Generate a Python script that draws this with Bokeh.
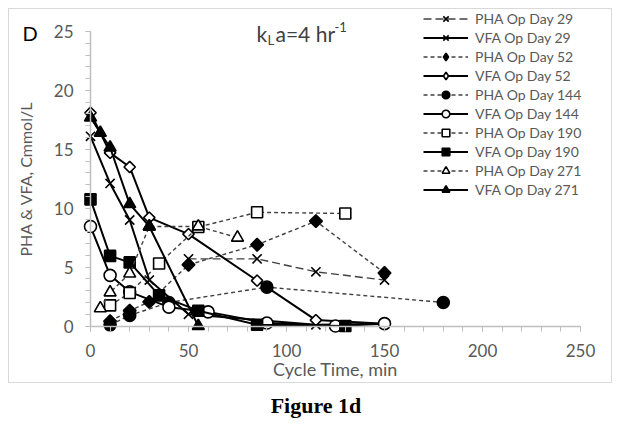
from bokeh.plotting import figure
from bokeh.models import (Range1d, SingleIntervalTicker, Legend, LegendItem, Label, Div, LinearAxis)
from bokeh.layouts import column
from bokeh.embed import file_html
from bokeh.resources import INLINE
import math

# ---- data (Cycle Time, min / Cmmol/L) ----
pha29_t = [50, 85, 115, 150]
pha29_v = [5.7, 5.7, 4.6, 3.9]
vfa29_t = [0, 10, 20, 30, 50, 115, 150]
vfa29_v = [16.1, 12.1, 9.0, 3.9, 1.0, 0.1, 0.2]
pha52_t = [10, 20, 30, 50, 85, 115, 150]
pha52_v = [0.4, 1.3, 2.05, 5.2, 6.9, 8.9, 4.5]
vfa52_t = [0, 10, 20, 30, 50, 85, 115, 150]
vfa52_v = [18.1, 14.7, 13.5, 9.2, 7.8, 3.85, 0.5, 0.2]
pha144_t = [10, 20, 40, 90, 180]
pha144_v = [0.1, 0.9, 2.0, 3.3, 2.0]
vfa144_t = [0, 10, 20, 40, 60, 90, 125, 150]
vfa144_v = [8.45, 4.3, 2.9, 1.6, 1.2, 0.25, 0.0, 0.2]
pha190_t = [10, 20, 35, 55, 85, 130]
pha190_v = [1.75, 2.8, 5.3, 8.4, 9.65, 9.55]
vfa190_t = [0, 10, 20, 35, 55, 85, 130]
vfa190_v = [10.75, 5.95, 5.4, 2.6, 1.3, 0.1, 0.0]
pha271_t = [5, 10, 20, 30, 55, 75]
pha271_v = [1.5, 2.85, 4.45, 8.45, 8.45, 7.5]
vfa271_t = [0, 5, 10, 20, 30, 55]
vfa271_v = [17.7, 16.4, 15.15, 10.35, 8.45, 0.0]

series_names = ["PHA Op Day 29", "VFA Op Day 29", "PHA Op Day 52", "VFA Op Day 52",
                "PHA Op Day 144", "VFA Op Day 144", "PHA Op Day 190", "VFA Op Day 190",
                "PHA Op Day 271", "VFA Op Day 271"]
x_axis_span = (0, 250)
y_axis_span = (0, 25)
x_tick_interval = 50
y_tick_interval = 5

FONT = "Lato"
GRAY = "#595959"
AXIS_GRAY = "#bfbfbf"

# ---- layout geometry (page pixels) ----
W, H = 604, 375              # canvas size
CX0, CY0 = 9, 9              # canvas origin on the page (8px margin + 1px border)
PX_X0, PX_X1 = 90, 580       # page x of axis start / end
PX_Y0, PX_Y1 = 325.5, 31     # page y of axis start / end
sx = (PX_X1 - PX_X0) / (x_axis_span[1] - x_axis_span[0])
sy = (PX_Y0 - PX_Y1) / (y_axis_span[1] - y_axis_span[0])
x_start = x_axis_span[0] - (PX_X0 - CX0) / sx
x_end = x_axis_span[0] + (CX0 + W - PX_X0) / sx
y_start = y_axis_span[0] - (CY0 + H - PX_Y0) / sy
y_end = y_axis_span[0] + (PX_Y0 - CY0) / sy

def dx(px):
    return x_axis_span[0] + (px - PX_X0) / sx
def dy(py):
    return y_axis_span[0] + (PX_Y0 - py) / sy

p = figure(width=W, height=H, output_backend="svg", toolbar_location=None,
           x_range=Range1d(x_start, x_end), y_range=Range1d(y_start, y_end),
           x_axis_location=None, y_axis_location=None, min_border=0)
p.styles = {"border": "1px solid #d9d9d9"}
p.outline_line_color = None
p.grid.visible = False

xax = LinearAxis(fixed_location=y_axis_span[0], bounds=x_axis_span,
                 ticker=SingleIntervalTicker(interval=x_tick_interval, num_minor_ticks=5))
yax = LinearAxis(fixed_location=x_axis_span[0], bounds=y_axis_span,
                 ticker=SingleIntervalTicker(interval=y_tick_interval, num_minor_ticks=5))
for ax in (xax, yax):
    ax.axis_line_color = AXIS_GRAY
    ax.axis_line_width = 1.5
    ax.major_tick_line_color = AXIS_GRAY
    ax.minor_tick_line_color = AXIS_GRAY
    ax.major_tick_out = 5
    ax.major_tick_in = 0
    ax.minor_tick_out = 5
    ax.minor_tick_in = 0
    ax.major_label_text_font = FONT
    ax.major_label_text_font_size = "17px"
    ax.major_label_text_color = GRAY
    ax.axis_label_text_font = FONT
    ax.axis_label_text_font_style = "normal"
    ax.axis_label_text_color = GRAY
xax.axis_label = "Cycle Time, min"
xax.axis_label_text_font_size = "18px"
xax.major_label_standoff = 13
xax.axis_label_standoff = -3
yax.axis_label = "PHA & VFA, Cmmol/L"
yax.axis_label_text_font_size = "16px"
yax.major_label_standoff = 12
yax.axis_label_standoff = 16
p.add_layout(xax, "below")
p.add_layout(yax, "left")

short_dash = "4 3"
long_dash = "8 4"
DIAMOND = ("square", math.pi / 4)
specs = [
    (pha29_t, pha29_v, ("x", 0), long_dash, "black", 13),
    (vfa29_t, vfa29_v, ("x", 0), "solid", "black", 13),
    (pha52_t, pha52_v, DIAMOND, short_dash, "black", 9),
    (vfa52_t, vfa52_v, DIAMOND, "solid", "white", 8),
    (pha144_t, pha144_v, ("circle", 0), short_dash, "black", 12),
    (vfa144_t, vfa144_v, ("circle", 0), "solid", "white", 12),
    (pha190_t, pha190_v, ("square", 0), short_dash, "white", 11),
    (vfa190_t, vfa190_v, ("square", 0), "solid", "black", 11),
    (pha271_t, pha271_v, ("triangle", 0), short_dash, "white", 12),
    (vfa271_t, vfa271_v, ("triangle", 0), "solid", "black", 12),
]

items = []
for name, (t, v, (marker, ang), dash, fill, size) in zip(series_names, specs):
    if dash == "solid":
        lr = p.line(t, v, line_color="black", line_width=2)
    else:
        lr = p.line(t, v, line_color="#404040", line_width=1.4, line_dash=dash)
    proxy = None
    if ang:
        # diamond-shaped twin drawn underneath (hidden by the rotated square),
        # used so the legend shows a diamond
        proxy = p.scatter(t, v, marker="diamond", size=size, fill_color=fill,
                          line_color="black", line_width=1.6)
    sr = p.scatter(t, v, marker=marker, size=size, angle=ang, fill_color=fill,
                   line_color="black", line_width=1.6)
    items.append(LegendItem(label=name, renderers=[lr, proxy if proxy is not None else sr]))

legend = Legend(items=items, location=(423 - CX0, CY0 + H - 9 - 190), padding=0, margin=0,
                spacing=0, glyph_width=45, glyph_height=19, label_height=19, label_standoff=7,
                label_text_font=FONT, label_text_font_size="14px",
                label_text_color=GRAY, background_fill_alpha=0, border_line_color=None)
p.add_layout(legend, "center")

p.add_layout(Label(x=dx(22), y=dy(32), text="D", text_font=FONT, text_font_size="20px",
                   text_color="black", text_baseline="middle", text_align="left"))
p.add_layout(Label(x=dx(256), y=dy(33), text="k", text_font=FONT, text_font_size="21px",
                   text_color="#404040", text_baseline="middle"))
p.add_layout(Label(x=dx(267), y=dy(39), text="L", text_font=FONT, text_font_size="13px",
                   text_color="#404040", text_baseline="middle"))
p.add_layout(Label(x=dx(275), y=dy(33), text="a=4 hr", text_font=FONT, text_font_size="21px",
                   text_color="#404040", text_baseline="middle"))
p.add_layout(Label(x=dx(334), y=dy(26), text="-1", text_font=FONT, text_font_size="13px",
                   text_color="#404040", text_baseline="middle"))

caption = Div(text="Figure 1d", width=W + 2, height=34,
              styles={"text-align": "center", "font-family": "Liberation Serif",
                      "font-weight": "bold", "font-size": "22px", "color": "black",
                      "width": "606px", "padding-top": "2px"})

layout = column(p, caption, spacing=0, margin=(8, 0, 0, 8))
open("out.html", "w").write(file_html(layout, INLINE))
